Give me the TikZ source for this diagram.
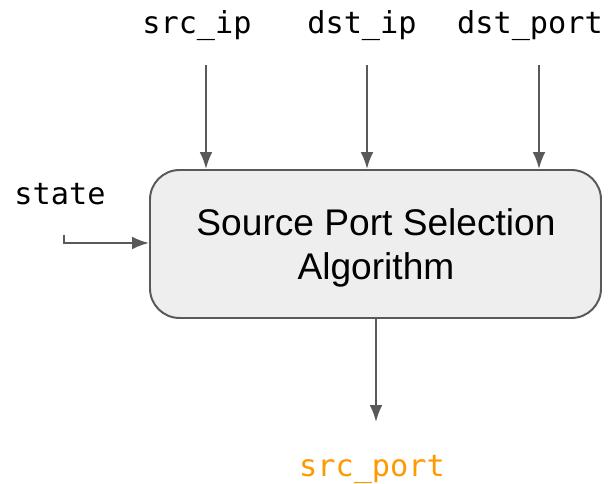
\documentclass[tikz,border=0pt]{standalone}
\usepackage{fontspec}
\setmainfont{Liberation Sans}
\setmonofont{DejaVu Sans Mono}
\usetikzlibrary{arrows.meta,positioning}
\definecolor{linegray}{HTML}{595959}
\definecolor{boxfill}{HTML}{EEEEEE}
\definecolor{outorange}{HTML}{FF9900}
\tikzset{
  field/.style={font=\fontsize{21.5}{24}\ttfamily, inner sep=0pt, anchor=base},
  flow/.style={draw=linegray, line width=1.4pt, -{Latex[length=12pt,width=9pt]}},
}

\begin{document}
\begin{tikzpicture}[x=0.025cm,y=-0.025cm]
   \useasboundingbox (0,0) rectangle (608,484);
   \node[draw=linegray, fill=boxfill, line width=1.4pt, rounded corners=21pt,
         minimum width=451*0.025cm, minimum height=148*0.025cm, inner sep=0pt] (box) at (375.5,244) {};
   \node[align=center, font=\fontsize{26.4}{31.3}\selectfont] (algo) at (376,248)
         {Source Port Selection\\Algorithm};
   \node[field] (srcip) at (197,34) {src\_ip};
   \node[field] (dstip) at (362,34) {dst\_ip};
   \node[field] (dstport) at (530,34) {dst\_port};
   \node[field] (state) at (60,205) {state};
   \node[field, text=outorange] (srcport) at (372,477) {src\_port};
   \coordinate (srcipend) at (206,65);
   \coordinate (dstipend) at (367,65);
   \coordinate (dstportend) at (539,65);
   \coordinate (stateend) at (64,235);
   \coordinate (srcportend) at (376,422);
   \draw[flow] (srcipend) -- (srcipend |- box.north);
   \draw[flow] (dstipend) -- (dstipend |- box.north);
   \draw[flow] (dstportend) -- (dstportend |- box.north);
   \draw[flow] (stateend) |- (box.west |- 0,243);
   \draw[flow] (srcportend |- box.south) -- (srcportend);
\end{tikzpicture}
\end{document}
